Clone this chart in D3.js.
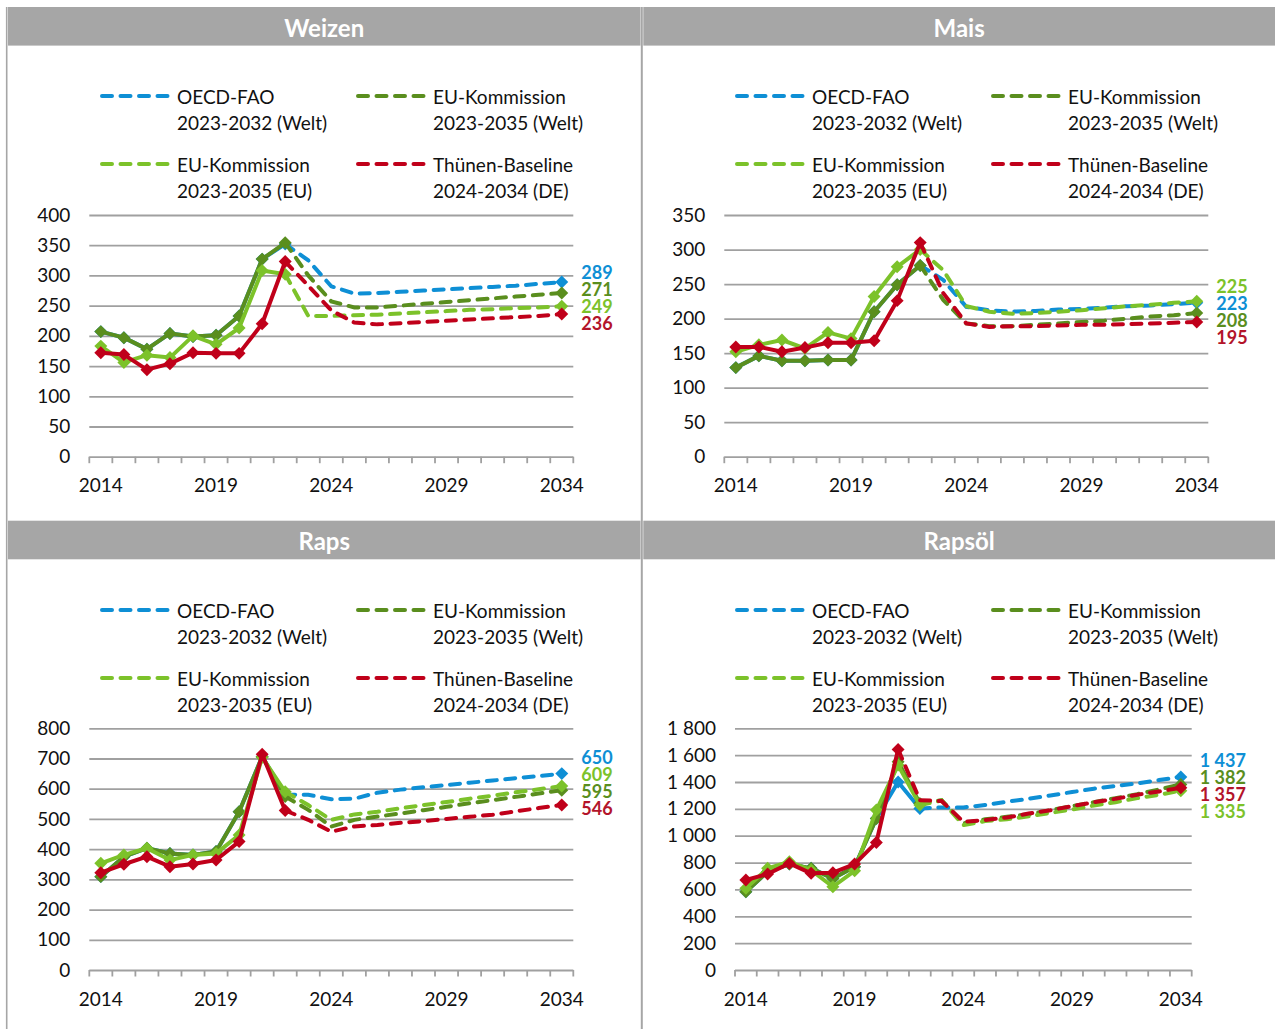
<!DOCTYPE html>
<html>
<head>
<meta charset="utf-8">
<script src="https://cdn.jsdelivr.net/npm/d3@7"></script>
<style>
  body { margin: 0; background: #fff; }
  text { font-family: Lato, "Open Sans", sans-serif; }
</style>
</head>
<body>
<div id="chart"></div>
<script>
// categories
const years = [2014, 2015, 2016, 2017, 2018, 2019, 2020, 2021, 2022, 2023, 2024,
               2025, 2026, 2027, 2028, 2029, 2030, 2031, 2032, 2033, 2034];
const labelYears = [2014, 2019, 2024, 2029, 2034];

const panelTitles = ["Weizen", "Mais", "Raps", "Rapsöl"];
const seriesNames = [["OECD-FAO", "2023-2032 (Welt)"], ["EU-Kommission", "2023-2035 (Welt)"],
                     ["EU-Kommission", "2023-2035 (EU)"], ["Thünen-Baseline", "2024-2034 (DE)"]];

// y axis maxima / steps per panel
const yMax  = [400, 350, 800, 1800];
const yStep = [50, 50, 100, 200];

// values per panel (order: OECD-FAO, EU Welt, EU EU, Thünen)
const weizenOecd    = [207,197,178,204,199,201,233,327,352, 325,282,270,271,273,275,277,279,281,283,286,289];
const weizenEuWelt  = [207,197,178,204,199,201,233,327,354, 300,257,247,247,250,253,256,259,262,265,268,271];
const weizenEuEu    = [183,156,168,164,200,186,213,308,302, 233,233,234,235,237,239,241,243,244,246,247,249];
const weizenThuenen = [172,169,144,154,172,171,171,220,323, 283,242,222,219,221,223,225,227,229,231,233,236];

const maisOecd    = [129,146,139,139,140,140,210,249,277, 256,217,212,210,211,213,214,216,218,219,221,223];
const maisEuWelt  = [129,146,139,139,140,140,210,249,277, 227,193,189,189,191,193,195,197,200,203,205,208];
const maisEuEu    = [152,162,169,157,180,171,232,275,300, 270,218,210,207,208,210,212,215,218,220,223,225];
const maisThuenen = [159,159,152,158,165,165,168,226,310, 237,193,188,189,189,190,191,191,192,193,194,195];

const rapsOecd    = [309,375,403,386,381,392,524,706,580, 580,565,567,587,597,605,612,620,627,635,642,650];
const rapsEuWelt  = [309,375,403,386,381,392,524,706,574, 530,475,497,508,518,529,540,552,562,573,584,595];
const rapsEuEu    = [353,381,403,364,381,386,447,704,590, 546,497,515,524,535,546,556,567,577,588,598,609];
const rapsThuenen = [322,350,375,342,351,364,425,714,528, 497,458,475,480,487,493,500,507,514,525,536,546];

const rapsoelOecd    = [583,732,789,757,682,769,1129,1400,1203, 1211,1211,1228,1253,1275,1300,1325,1350,1370,1390,1415,1437];
const rapsoelEuWelt  = [583,732,789,757,682,769,1129,1551,1241, 1265,1092,1122,1141,1160,1190,1220,1250,1280,1310,1345,1382];
const rapsoelEuEu    = [608,757,806,744,620,739,1191,1526,1228, 1262,1079,1109,1122,1145,1170,1195,1225,1250,1280,1305,1335];
const rapsoelThuenen = [670,715,794,720,725,789,950,1643, 1265,1258,1104,1117,1136,1165,1190,1220,1250,1275,1305,1330,1357];

// last year of the solid (historical) part of each series
const weizenSplit  = [2022, 2022, 2022, 2022];
const maisSplit    = [2022, 2022, 2022, 2022];
const rapsSplit    = [2022, 2022, 2022, 2022];
const rapsoelSplit = [2022, 2022, 2022, 2021];

// styles
const lineColors  = ["#0e8fd5", "#5a8e1e", "#7cc22a", "#c0001a"];
const labelColors = ["#0e8fd5", "#5a8e1e", "#7cc22a", "#b3142a"];
const headerColor = "#a6a6a6";
const gridColor   = "#a0a0a0";
const textColor   = "#111";

const width = 1275, height = 1029;

function numFmt(v) { return d3.format(",")(v).replace(/,/g, " "); }

const panels = [
  { title: panelTitles[0], series: [weizenOecd, weizenEuWelt, weizenEuEu, weizenThuenen], split: weizenSplit,
    max: yMax[0], step: yStep[0], hx0: 8, hx1: 640.5, hy: 7,
    left: 89.3, right: 573.3, top: 215, bottom: 456.7, lx: 100, ly: 96, labShift: -1 },
  { title: panelTitles[1], series: [maisOecd, maisEuWelt, maisEuEu, maisThuenen], split: maisSplit,
    max: yMax[1], step: yStep[1], hx0: 643.3, hx1: 1275, hy: 7,
    left: 724.3, right: 1208.3, top: 215, bottom: 456.7, lx: 735, ly: 96, labShift: 2 },
  { title: panelTitles[2], series: [rapsOecd, rapsEuWelt, rapsEuEu, rapsThuenen], split: rapsSplit,
    max: yMax[2], step: yStep[2], hx0: 8, hx1: 640.5, hy: 520.7,
    left: 89.3, right: 573.3, top: 728.3, bottom: 970, lx: 100, ly: 610, labShift: -6 },
  { title: panelTitles[3], series: [rapsoelOecd, rapsoelEuWelt, rapsoelEuEu, rapsoelThuenen], split: rapsoelSplit,
    max: yMax[3], step: yStep[3], hx0: 643.3, hx1: 1275, hy: 520.7,
    left: 735, right: 1191.7, top: 728.3, bottom: 970, lx: 735, ly: 610, labShift: 1 }
];

const svg = d3.select("#chart").append("svg")
  .attr("width", width)
  .attr("height", height);

// panel frame lines
svg.append("line")
  .attr("x1", 6.7).attr("x2", 6.7).attr("y1", 7).attr("y2", height)
  .attr("stroke", headerColor).attr("stroke-width", 1.6);
svg.append("line")
  .attr("x1", 641.8).attr("x2", 641.8).attr("y1", 7).attr("y2", height)
  .attr("stroke", headerColor).attr("stroke-width", 2);

const diamond = d3.symbol().type(d3.symbolSquare).size(84);

panels.forEach(function(p) {
  const g = svg.append("g");

  // header bar
  g.append("rect")
    .attr("x", p.hx0).attr("y", p.hy)
    .attr("width", p.hx1 - p.hx0).attr("height", 38.6)
    .attr("fill", headerColor);
  g.append("text")
    .attr("x", (p.hx0 + p.hx1) / 2).attr("y", p.hy + 20)
    .attr("text-anchor", "middle").attr("dominant-baseline", "central")
    .style("font-size", "24px").style("font-weight", "bold").style("fill", "#fff")
    .text(p.title);

  // legend
  seriesNames.forEach(function(name, i) {
    const lx = p.lx + (i % 2) * 256;
    const ly = p.ly + Math.floor(i / 2) * 68;
    g.append("line")
      .attr("x1", lx + 2).attr("x2", lx + 68).attr("y1", ly).attr("y2", ly)
      .attr("stroke", lineColors[i]).attr("stroke-width", 4)
      .attr("stroke-dasharray", "10,8.5").attr("stroke-linecap", "round");
    const t = g.append("text")
      .attr("x", lx + 77).attr("y", ly)
      .attr("dominant-baseline", "central")
      .style("font-size", "19px").style("fill", textColor);
    t.append("tspan").attr("x", lx + 77).attr("dy", 0).text(name[0]);
    t.append("tspan").attr("x", lx + 77).attr("dy", 26).text(name[1]);
  });

  // scales
  const x = d3.scaleBand().domain(years).range([p.left, p.right]).paddingInner(0).paddingOuter(0);
  const y = d3.scaleLinear().domain([0, p.max]).range([p.bottom, p.top]);
  const cx = function(yr) { return x(yr) + x.bandwidth() / 2; };

  // gridlines + y labels
  const yAxis = d3.axisLeft(y)
    .tickValues(d3.range(0, p.max + 1, p.step))
    .tickSize(-(p.right - p.left))
    .tickPadding(19)
    .tickFormat(numFmt);
  const ya = g.append("g").attr("transform", "translate(" + p.left + ",0)").call(yAxis);
  ya.select(".domain").remove();
  ya.selectAll("line").attr("stroke", gridColor).attr("stroke-width", 1.8);
  ya.selectAll("text")
    .style("font-size", "19px").style("fill", textColor)
    .style("font-family", "Lato, 'Open Sans', sans-serif");

  // category tick marks at band boundaries
  const bounds = years.map(function(yr) { return x(yr); }).concat([p.right]);
  g.selectAll(".xtick").data(bounds).enter().append("line")
    .attr("x1", function(d) { return d; }).attr("x2", function(d) { return d; })
    .attr("y1", p.bottom).attr("y2", p.bottom + 6.5)
    .attr("stroke", gridColor).attr("stroke-width", 1.8);

  // year labels
  g.selectAll(".xlab").data(labelYears).enter().append("text")
    .attr("x", cx).attr("y", p.bottom + 28)
    .attr("text-anchor", "middle").attr("dominant-baseline", "central")
    .style("font-size", "19px").style("fill", textColor)
    .text(function(d) { return d; });

  const line = d3.line()
    .x(function(d) { return cx(d.year); })
    .y(function(d) { return y(d.value); });

  // series
  p.series.forEach(function(vals, i) {
    const pts = years.map(function(yr, k) { return { year: yr, value: vals[k] }; });
    const hist = pts.filter(function(d) { return d.year <= p.split[i]; });
    const proj = pts.filter(function(d) { return d.year >= p.split[i]; });

    g.append("path").datum(hist)
      .attr("d", line).attr("fill", "none")
      .attr("stroke", lineColors[i]).attr("stroke-width", 4)
      .attr("stroke-linejoin", "round");
    g.append("path").datum(proj)
      .attr("d", line).attr("fill", "none")
      .attr("stroke", lineColors[i]).attr("stroke-width", 4)
      .attr("stroke-dasharray", "10,8.5").attr("stroke-linecap", "round");

    const marks = hist.concat([proj[proj.length - 1]]);
    g.selectAll(null).data(marks).enter().append("path")
      .attr("d", diamond)
      .attr("transform", function(d) { return "translate(" + cx(d.year) + "," + y(d.value) + ") rotate(45)"; })
      .attr("fill", lineColors[i]);
  });

  // end value labels, spread around their mean position
  const ends = p.series.map(function(vals, i) { return { i: i, v: vals[vals.length - 1] }; })
    .sort(function(a, b) { return b.v - a.v; });
  const meanY = d3.mean(ends, function(d) { return y(d.v); }) + p.labShift;
  ends.forEach(function(d, k) {
    g.append("text")
      .attr("x", p.right + 8)
      .attr("y", meanY + (k - 1.5) * 17)
      .attr("dominant-baseline", "central")
      .style("font-size", "18px").style("font-weight", "bold")
      .style("fill", labelColors[d.i])
      .text(numFmt(d.v));
  });
});
</script>
</body>
</html>
